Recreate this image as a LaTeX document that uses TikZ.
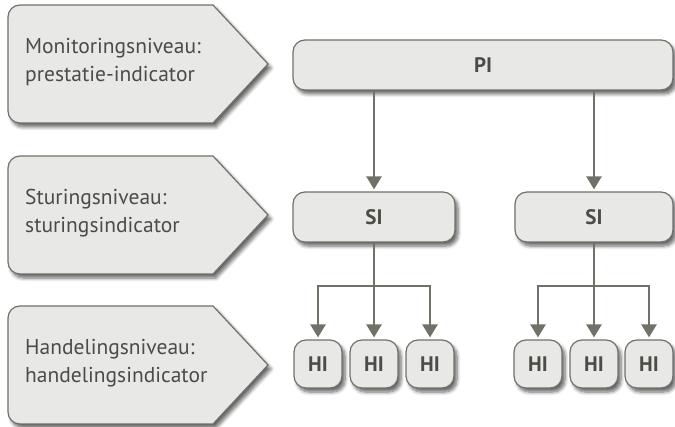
\documentclass[tikz,border=0pt]{standalone}
\usepackage{fontspec}
\setmainfont{PT Sans}
\usetikzlibrary{arrows.meta,shadows.blur}

\definecolor{boxfill}{HTML}{E8E8E6}
\definecolor{boxline}{HTML}{6F7269}
\definecolor{inkgray}{HTML}{4A4D46}

\tikzset{
  softshadow/.style={blur shadow={shadow xshift=3pt, shadow yshift=-4pt,
      shadow blur steps=6, shadow blur radius=3.5pt, shadow opacity=60}},
  levelshape/.style={fill=boxfill, draw=boxline, line width=1.2pt, softshadow},
  leveltext/.style={anchor=west, align=left, text=inkgray, inner sep=0pt,
      font=\fontsize{21.5pt}{28pt}\selectfont},
  ibox/.style={draw=boxline, fill=boxfill, line width=1.2pt, rounded corners=12pt,
      text=inkgray, font=\fontsize{21pt}{24pt}\selectfont\bfseries,
      minimum height=50pt, inner sep=0pt, softshadow},
  hibox/.style={ibox, minimum width=48pt, minimum height=48pt},
  conn/.style={draw=boxline, line width=2.6pt},
  arr/.style={conn, -{Triangle[width=15pt,length=13pt]}, shorten >=2pt},
}

% pentagon label shape: rounded on the left, pointed on the right
\newcommand\levelpath[1]{%
  \path[levelshape] (213,-#1) -- (268,-#1-59) -- (213,-#1-118) -- (20,-#1-118)
    arc[start angle=270, end angle=180, radius=12] -- (8,-#1-12)
    arc[start angle=180, end angle=90, radius=12] -- cycle;}

\begin{document}
\begin{tikzpicture}[x=1pt,y=1pt]
\useasboundingbox (0,0) rectangle (675,-427);

% level labels
\levelpath{5}
\node[leveltext] (lmon) at (25,-62) {Monitoringsniveau:\\prestatie-indicator};
\levelpath{156}
\node[leveltext] (lstu) at (25,-213) {Sturingsniveau:\\sturingsindicator};
\levelpath{306}
\node[leveltext] (lhan) at (25,-363) {Handelingsniveau:\\handelingsindicator};

% indicator boxes
\node[ibox, minimum width=380pt] (pi) at (483,-65) {PI};
\node[ibox, minimum width=162pt] (sil) at (374,-217) {SI};
\node[ibox, minimum width=158pt] (sir) at (594,-217) {SI};

\node[hibox] (hl1) at (318,-364) {HI};
\node[hibox] (hl2) at (374,-364) {HI};
\node[hibox] (hl3) at (430,-364) {HI};
\node[hibox] (hr1) at (538,-364) {HI};
\node[hibox] (hr2) at (594,-364) {HI};
\node[hibox] (hr3) at (649,-364) {HI};

% connectors
\draw[arr] (pi.south -| sil) -- (sil.north);
\draw[arr] (pi.south -| sir) -- (sir.north);

\coordinate (jl) at (374,-286);
\coordinate (jr) at (594,-286);
\draw[arr] (sil.south) -- (hl2.north);
\draw[arr] (jl) -| (hl1.north);
\draw[arr] (jl) -| (hl3.north);
\draw[arr] (sir.south) -- (hr2.north);
\draw[arr] (jr) -| (hr1.north);
\draw[arr] (jr) -| (hr3.north);
\end{tikzpicture}
\end{document}
